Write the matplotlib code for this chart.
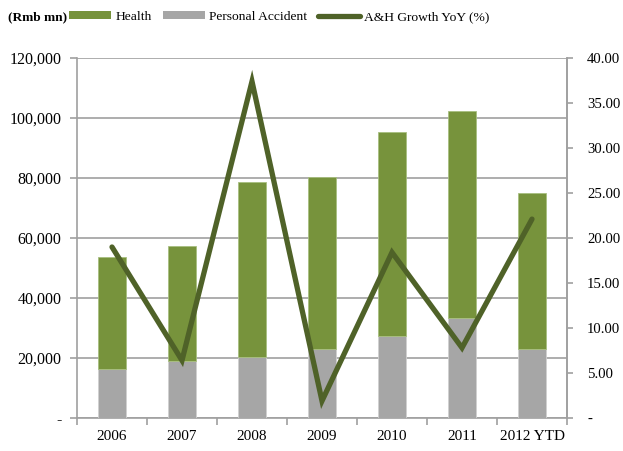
import matplotlib
matplotlib.use("Agg")
import matplotlib.pyplot as plt
from matplotlib.patches import Patch
from matplotlib.lines import Line2D
import numpy as np

categories = ["2006", "2007", "2008", "2009", "2010", "2011", "2012 YTD"]
personal_accident = [16200, 18900, 20300, 23000, 27400, 33500, 22900]
total_ah = [53700, 57200, 78800, 80300, 95200, 102500, 74900]
health = [t - p for t, p in zip(total_ah, personal_accident)]
growth_yoy = [19.0, 6.4, 37.4, 1.9, 18.4, 7.8, 22.1]

left_ticks = [0, 20000, 40000, 60000, 80000, 100000, 120000]
left_labels = ["-", "20,000", "40,000", "60,000", "80,000", "100,000", "120,000"]
right_ticks = [0, 5, 10, 15, 20, 25, 30, 35, 40]
right_labels = ["-", "5.00", "10.00", "15.00", "20.00", "25.00", "30.00", "35.00", "40.00"]

green = "#77933C"
gray = "#A6A6A6"
dark = "#4F6228"
axcol = "#A0A0A0"

plt.rcParams["font.family"] = ["Liberation Serif", "DejaVu Serif"]

fig = plt.figure(figsize=(6.23, 4.51), dpi=100)
ax = fig.add_axes([77/623, 33/451, 490/623, 360/451])
x = np.arange(len(categories))

ax.bar(x, personal_accident, width=0.4, color=gray, edgecolor="#D0D0D0", linewidth=0.6, zorder=3)
ax.bar(x, health, bottom=personal_accident, width=0.4, color=green, edgecolor="#A8BF80", linewidth=0.6, zorder=3)

ax.set_xlim(-0.5, len(categories) - 0.5)
ax.set_ylim(0, 120000)
ax.set_yticks(left_ticks)
ax.set_yticklabels(left_labels, fontsize=11.5)
ax.set_xticks(x)
ax.set_xticklabels(categories, fontsize=11)
ax.set_xticks(np.arange(-0.5, len(categories)), minor=True)
ax.tick_params(axis="x", which="major", length=0, pad=9)
ax.tick_params(axis="x", which="minor", length=5, color=axcol, width=1.2, direction="out")
ax.tick_params(axis="y", length=5, color=axcol, width=1.2, direction="out", pad=6)
ax.grid(axis="y", color=axcol, linewidth=1.2, zorder=0)
ax.set_axisbelow(True)
ax.spines["top"].set_visible(False)
for s in ["left", "bottom", "right"]:
    ax.spines[s].set_color(axcol)
    ax.spines[s].set_linewidth(1.2)

ax2 = ax.twinx()
ax2.plot(x, growth_yoy, color=dark, linewidth=3.8, solid_capstyle="round", solid_joinstyle="miter", zorder=5)
ax2.set_ylim(0, 40)
ax2.set_yticks(right_ticks)
ax2.set_yticklabels(right_labels, fontsize=10.6)
ax2.tick_params(axis="y", length=4, color=axcol, width=1.2, direction="out", pad=10.5)
for s in ["top", "left", "bottom"]:
    ax2.spines[s].set_visible(False)
ax2.spines["right"].set_color(axcol)
ax2.spines["right"].set_linewidth(1.2)

fig.text(8/623, 1 - 17/451, "(Rmb mn)", fontsize=9.6, fontweight="bold", va="center", ha="left")
handles = [Patch(facecolor=green, edgecolor="none"),
           Patch(facecolor=gray, edgecolor="none"),
           Line2D([0], [0], color=dark, linewidth=3.8, solid_capstyle="round")]
fig.legend(handles, ["Health", "Personal Accident", "A&H Growth YoY (%)"],
           loc="center left", bbox_to_anchor=(69/623, 1 - 17/451), ncol=3,
           frameon=False, fontsize=9.7, handlelength=3.15, handleheight=0.55,
           handletextpad=0.3, columnspacing=0.8, borderpad=0, borderaxespad=0)

fig.savefig("out.png", dpi=100)
